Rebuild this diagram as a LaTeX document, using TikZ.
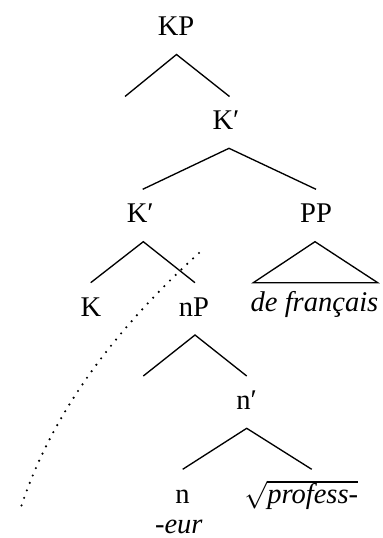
\documentclass[tikz,border=0pt]{standalone}
\usepackage{fontspec}
\setmainfont{Liberation Serif}
\begin{document}
\begin{tikzpicture}[x=0.75pt,y=-0.75pt,
  lbl/.style={inner sep=0pt,anchor=base,font=\fontsize{21.4pt}{25pt}\selectfont},
  branch/.style={line width=1pt,line join=miter},
  trace/.style={line width=1.8pt,dash pattern=on 0pt off 6pt,line cap=round}]
\useasboundingbox (0,0) rectangle (382,538);
% labels
\node[lbl] (KP) at (176,36) {KP};
\node[lbl] (Kbar1) at (226,129.3) {K′};
\node[lbl] (Kbar2) at (140.3,222.7) {K′};
\node[lbl] (PP) at (316,222.7) {PP};
\node[lbl] (K) at (91,316) {K};
\node[lbl] (nP) at (194,316) {nP};
\node[lbl] (dfr) at (314.5,311) {\itshape de français};
\node[lbl] (nbar) at (246.5,409.3) {n′};
\node[lbl] (n) at (182.5,503.3) {n};
\node[lbl] (eur) at (178.8,533.5) {\itshape -eur};
\node[lbl,anchor=base west] (root) at (244,503.3) {$\sqrt{\mbox{\itshape profess-}}$};
% branch points
\coordinate (kpA) at (176.5,54.5);
\coordinate (kpL) at (125,96.5);
\coordinate (kpR) at (229.5,96.5);
\coordinate (k1A) at (229,148.3);
\coordinate (k1L) at (142.7,189.3);
\coordinate (k1R) at (316,189.3);
\coordinate (k2A) at (143.3,241.7);
\coordinate (k2L) at (90.7,282.7);
\coordinate (k2R) at (195,282.7);
\coordinate (ppA) at (315,241.7);
\coordinate (ppL) at (253.3,282.7);
\coordinate (ppR) at (377.7,282.7);
\coordinate (npA) at (195,335);
\coordinate (npL) at (143.3,376);
\coordinate (npR) at (246.7,376);
\coordinate (nbA) at (246.7,428.3);
\coordinate (nbL) at (182.7,469.3);
\coordinate (nbR) at (311.7,469.3);
\coordinate (trTop) at (199,253);
\coordinate (trBot) at (21,507);
% branches
\draw[branch] (kpL) -- (kpA) -- (kpR);
\draw[branch] (k1L) -- (k1A) -- (k1R);
\draw[branch] (k2L) -- (k2A) -- (k2R);
\draw[branch] (ppA) -- (ppL) -- (ppR) -- cycle;
\draw[branch] (npL) -- (npA) -- (npR);
\draw[branch] (nbL) -- (nbA) -- (nbR);
% dotted trace
\draw[trace] (trTop) .. controls (105.5,338) and (49,422) .. (trBot);
\end{tikzpicture}
\end{document}
